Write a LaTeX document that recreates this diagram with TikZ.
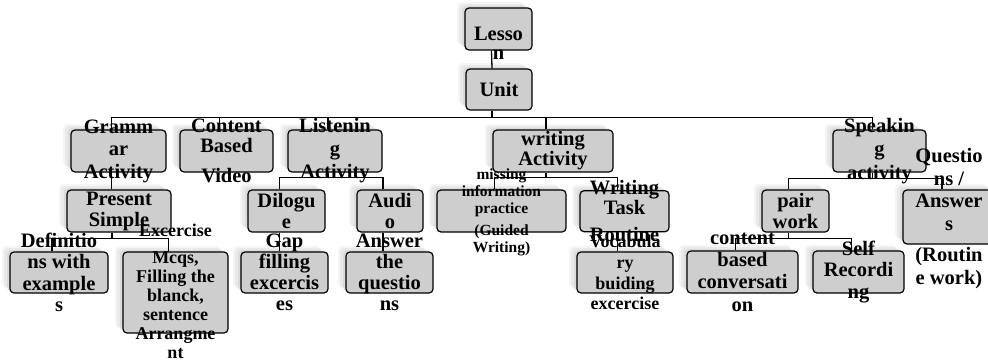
\documentclass[tikz,border=0pt]{standalone}
\usepackage{fontspec}
\setmainfont{Liberation Serif}
\usepackage{tikz}
\usetikzlibrary{calc, shadows}

\definecolor{boxgray}{RGB}{206,206,206}

\tikzset{
  box/.style 2 args={draw=black, line width=1.2pt, rounded corners=4pt, fill=boxgray,
    minimum width=#1pt, minimum height=#2pt, inner sep=0pt,
    general shadow={fill=black, opacity=.04, shadow xshift=-8pt, shadow yshift=6pt},
    general shadow={fill=black, opacity=.05, shadow xshift=-6pt, shadow yshift=4pt},
    general shadow={fill=black, opacity=.06, shadow xshift=-3pt, shadow yshift=2pt}},
  txt/.style={font=\bfseries\fontsize{20.5}{#1}\selectfont, align=center, inner sep=0pt, text=black},
  txt/.default=21.5,
  smalltxt/.style={txt, font=\bfseries\fontsize{18}{#1}\selectfont},
  smalltxt/.default=19.5,
  tinytxt/.style={txt, font=\bfseries\fontsize{15.5}{17}\selectfont},
  link/.style={line width=1.3pt}
}

\begin{document}
\begin{tikzpicture}[x=1pt, y=-1pt]
\useasboundingbox (0,0) rectangle (988,362);

\node[box={67}{42}] (lesson) at (498.5,29) {};
\node[box={66}{41}] (unit) at (499,89.5) {};

\node[box={95}{42}] (gram) at (118.5,151) {};
\node[box={93}{42}] (cont) at (226.5,151) {};
\node[box={94}{42}] (list) at (335,151) {};
\node[box={120}{42}] (writ) at (553,151) {};
\node[box={93}{42}] (speak) at (879.5,151) {};

\node[box={104}{42}] (pres) at (119,211) {};
\node[box={77}{42}] (dial) at (286.5,211) {};
\node[box={66}{42}] (audio) at (390,211) {};
\node[box={129}{42}] (miss) at (501.5,211) {};
\node[box={89}{41}] (task) at (624.5,211.2) {};
\node[box={67}{42}] (pair) at (795.5,211) {};
\node[box={92}{54}] (quest) at (949,217) {};

\node[box={98}{41}] (defn) at (59,272.5) {};
\node[box={105}{81}] (mcqs) at (175.5,292.5) {};
\node[box={87}{41}] (gap) at (284.5,272.5) {};
\node[box={87}{41}] (answ) at (389.5,272.5) {};
\node[box={96}{41}] (vocab) at (625,272.5) {};
\node[box={111}{42}] (convo) at (742.5,272) {};
\node[box={91}{42}] (self) at (858.5,272) {};

\draw[link] ([xshift=-7pt]lesson.south) -- ([xshift=-7pt]unit.north);
\draw[link] ([xshift=-7pt]unit.south) -- ++(0,7) -| ([xshift=-7pt]gram.north);
\draw[link] ([xshift=-7pt]unit.south) -- ++(0,7) -| ([xshift=-7pt]cont.north);
\draw[link] ([xshift=-7pt]unit.south) -- ++(0,7) -| ([xshift=-7pt]list.north);
\draw[link] ([xshift=-7pt]unit.south) -- ++(0,7) -| ([xshift=-7pt]writ.north);
\draw[link] ([xshift=-7pt]unit.south) -- ++(0,7) -| ([xshift=-7pt]speak.north);
\draw[link] ([xshift=-7pt]gram.south) -- ([xshift=-7pt]gram.south |- pres.north);
\draw[link] ([xshift=-7pt]pres.south) -- ++(0,6) -| ([xshift=-7pt]defn.north);
\draw[link] ([xshift=-7pt]pres.south) -- ++(0,6) -| ([xshift=-7pt]mcqs.north);
\draw[link] ([xshift=-7pt]list.south) -- ++(0,5) -| ([xshift=-7pt]dial.north);
\draw[link] ([xshift=-7pt]list.south) -- ++(0,5) -| ([xshift=-7pt]audio.north);
\draw[link] ([xshift=-7pt]dial.south) -- ([xshift=-7pt]dial.south |- gap.north);
\draw[link] ([xshift=-7pt]audio.south) -- ([xshift=-7pt]audio.south |- answ.north);
\draw[link] ([xshift=-7pt]writ.south) -- ++(0,5) -| ([xshift=-7pt]miss.north);
\draw[link] ([xshift=-7pt]writ.south) -- ++(0,5) -| ([xshift=-7pt]task.north);
\draw[link] ([xshift=-7pt]task.south) -- ([xshift=-7pt]task.south |- vocab.north);
\draw[link] ([xshift=-7pt]speak.south) -- ++(0,6) -| ([xshift=-7pt]pair.north);
\draw[link] ([xshift=-7pt]speak.south) -- ++(0,6) -| ([xshift=-7pt]quest.north);
\draw[link] ([xshift=-7pt]pair.south) -- ++(0,6) -| ([xshift=-7pt]convo.north);
\draw[link] ([xshift=-7pt]pair.south) -- ++(0,6) -| ([xshift=-7pt]self.north);

\node[txt=19] (lesson-t) at ([yshift=-14.5pt]lesson.center) {Lesso\\n};
\node[txt] (unit-t) at (unit) {Unit};
\node[txt=22.5] (gram-t) at (gram) {Gramm\\ar\\Activity};
\node[txt=20] (cont-t) at (cont) {Content\\Based\\[10pt]Video};
\node[txt=23] (list-t) at (list) {Listenin\\g\\Activity};
\node[txt=20] (writ-t) at (writ) {writing\\Activity};
\node[txt=23.5] (speak-t) at (speak) {Speakin\\g\\activity};
\node[txt=21] (pres-t) at (pres) {Present\\Simple};
\node[txt=21] (dial-t) at (dial) {Dilogu\\e};
\node[txt=21] (audio-t) at (audio) {Audi\\o};
\node[tinytxt] (miss-t) at ([yshift=-1.5pt]miss.center) {missing\\information\\practice\\[5pt](Guided\\Writing)};
\node[txt=20] (task-t) at (task) {Writing\\Task\\[7pt]Routine};
\node[txt=21] (pair-t) at (pair) {pair\\work};
\node[txt=22.5] (quest-t) at ([yshift=-1.5pt]quest.center) {Questio\\ns /\\Answer\\s\\[9pt](Routin\\e work)};
\node[txt=21.5] (defn-t) at (defn) {Definitio\\ns with\\example\\s};
\node[smalltxt=19] (mcqs-t) at ([yshift=1pt]mcqs.center) {Excercise\\[8pt]Mcqs,\\Filling the\\blanck,\\sentence\\Arrangme\\nt};
\node[txt=21] (gap-t) at (gap) {Gap\\filling\\excercis\\es};
\node[txt=21] (answ-t) at (answ) {Answer\\the\\questio\\ns};
\node[smalltxt=20.7] (vocab-t) at (vocab) {Vocabula\\ry\\buiding\\excercise};
\node[txt=22.3] (convo-t) at (convo) {content\\based\\conversati\\on};
\node[txt=21.5] (self-t) at (self) {Self\\Recordi\\ng};
\end{tikzpicture}
\end{document}
